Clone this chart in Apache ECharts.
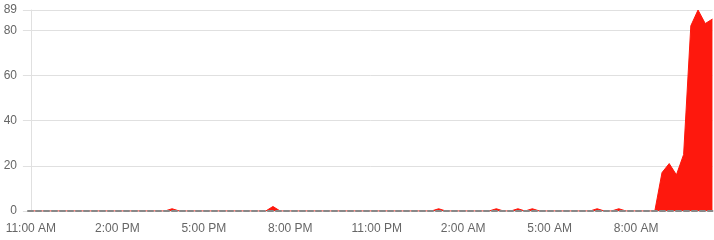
<!DOCTYPE html>
<html>
<head>
<meta charset="utf-8">
<script src="https://cdn.jsdelivr.net/npm/echarts@6/dist/echarts.min.js"></script>
<style>html,body{margin:0;padding:0;background:#fff}#c{width:714px;height:240px}</style>
</head>
<body>
<div id="c"></div>
<script>
// Samples every 15 minutes, first sample 6 minutes before 11:00 AM
var startOffsetMin = -6;
var stepMin = 15;
var values = [
  0,0,0,0,0,0,0,0,0,0, 0,0,0,0,0,0,0,0,0,0,
  1,0,0,0,0,0,0,0,0,0, 0,0,0,0,2,0,0,0,0,0,
  0,0,0,0,0,0,0,0,0,0, 0,0,0,0,0,0,0,1,0,0,
  0,0,0,0,0,1,0,0,1,0, 1,0,0,0,0,0,0,0,0,1,
  0,0,1,0,0,0,0,0,17,21, 16,25,82,89,83,85
];
var tickLabels = ['11:00 AM','2:00 PM','5:00 PM','8:00 PM','11:00 PM','2:00 AM','5:00 AM','8:00 AM'];
var labelStepMin = 180;
var yTicksMax = 89;

var data = values.map(function (v, i) { return [startOffsetMin + i * stepMin, v]; });
var xMax = startOffsetMin + (values.length - 1) * stepMin;

var chart = echarts.init(document.getElementById('c'), null, {renderer: 'canvas'});
chart.setOption({
  animation: false,
  textStyle: {fontFamily: 'Liberation Sans, Arial, sans-serif'},
  grid: {left: 28, right: 0, top: 10, bottom: 29, containLabel: false},
  xAxis: {
    type: 'value',
    min: startOffsetMin,
    max: xMax,
    interval: 3,
    z: 5,
    axisLine: {show: true, lineStyle: {color: '#888', width: 2, type: [5, 3]}},
    axisTick: {show: false},
    splitLine: {show: false},
    axisLabel: {
      show: true,
      color: '#666',
      fontSize: 12,
      margin: 12,
      showMinLabel: false,
      showMaxLabel: false,
      formatter: function (v) {
        if (v < 0 || v % labelStepMin !== 0) return '';
        var idx = v / labelStepMin;
        return tickLabels[idx] || '';
      }
    }
  },
  yAxis: {
    type: 'value',
    min: 0,
    max: yTicksMax,
    interval: 20,
    axisLine: {show: true, lineStyle: {color: '#e0e0e0', width: 1}},
    axisTick: {show: true, length: 8, lineStyle: {color: '#e0e0e0'}},
    splitLine: {show: true, lineStyle: {color: '#e0e0e0', width: 1}},
    axisLabel: {color: '#666', fontSize: 12, margin: 11, showMaxLabel: true}
  },
  series: [{
    type: 'line',
    data: data,
    showSymbol: false,
    symbol: 'none',
    smooth: false,
    lineStyle: {color: '#fe180d', width: 1},
    itemStyle: {color: '#fe180d'},
    areaStyle: {color: '#fe180d', opacity: 1}
  }]
});
</script>
</body>
</html>
